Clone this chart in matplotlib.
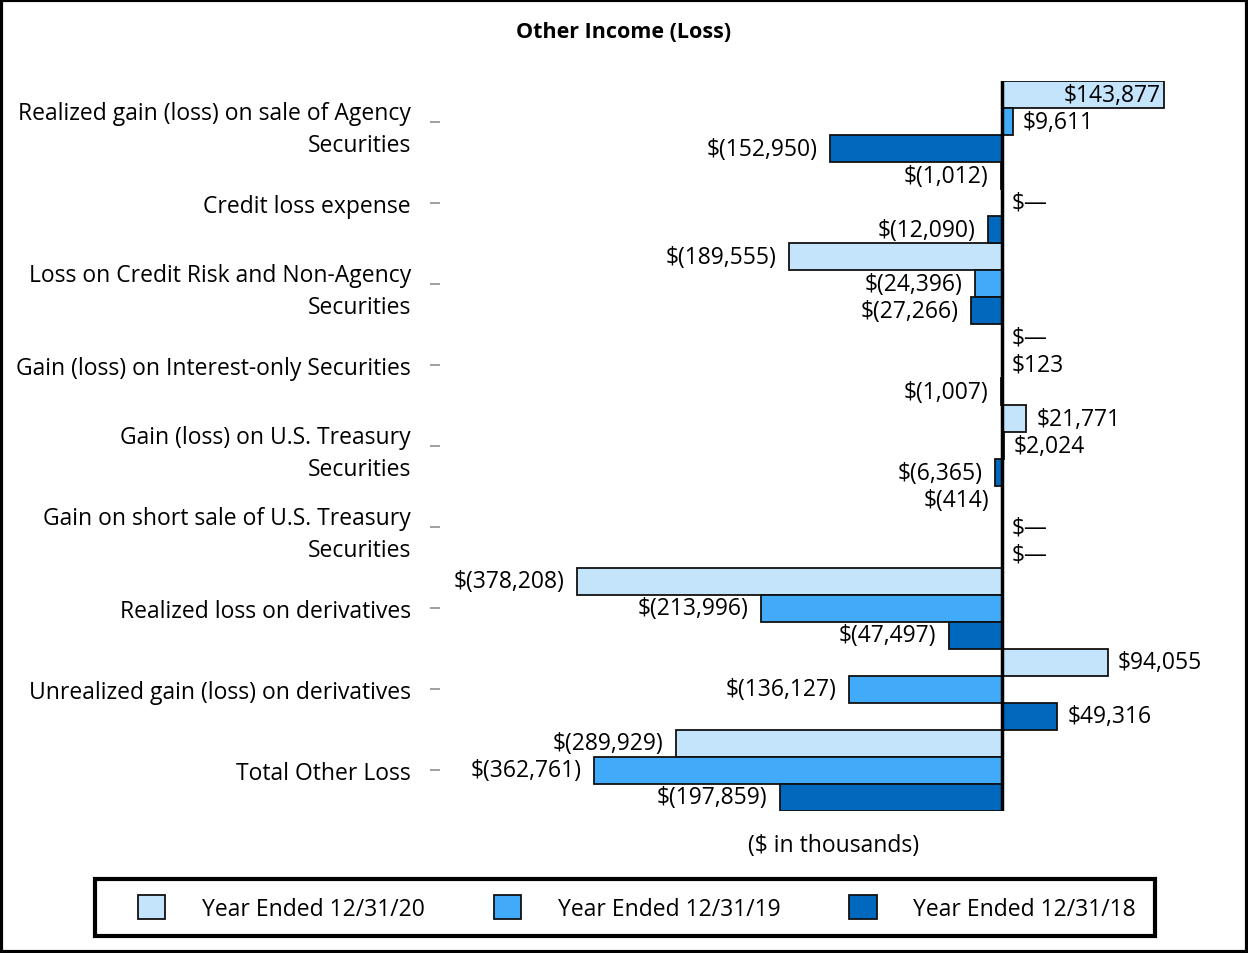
import matplotlib
matplotlib.use('Agg')
import matplotlib.pyplot as plt
import numpy as np
from matplotlib.patches import Rectangle

plt.rcParams['font.family'] = ['Open Sans', 'DejaVu Sans']

categories = ['Realized gain (loss) on sale of Agency\nSecurities',
              'Credit loss expense',
              'Loss on Credit Risk and Non-Agency\nSecurities',
              'Gain (loss) on Interest-only Securities',
              'Gain (loss) on U.S. Treasury\nSecurities',
              'Gain on short sale of U.S. Treasury\nSecurities',
              'Realized loss on derivatives',
              'Unrealized gain (loss) on derivatives',
              'Total Other Loss']
series_names = ['Year Ended 12/31/20', 'Year Ended 12/31/19', 'Year Ended 12/31/18']
y2020 = [143877, -1012, -189555, 0, 21771, -414, -378208, 94055, -289929]
y2019 = [9611, 0, -24396, 123, 2024, 0, -213996, -136127, -362761]
y2018 = [-152950, -12090, -27266, -1007, -6365, 0, -47497, 49316, -197859]
colors = ['#C4E4FC', '#41AAF9', '#0069BE']


def fmt(v):
    if v == 0:
        return '$\u2014'
    if v < 0:
        return '$({:,})'.format(-v)
    return '${:,}'.format(v)


fig = plt.figure(figsize=(12.48, 9.54), dpi=100)
ax = fig.add_axes([0.3526, 0.149, 0.6304, 0.765])

fs = 16.5
h = 1/3
pos = np.arange(len(categories))
for k, vals in enumerate([y2020, y2019, y2018]):
    yy = pos + (k - 1)*h
    ax.barh(yy, vals, height=h, color=colors[k], edgecolor='#111111',
            linewidth=1.3, label=series_names[k], zorder=2)
    for y, v in zip(yy, vals):
        if v > 120000:
            ax.annotate(fmt(v), (v, y), xytext=(-2, 0), textcoords='offset points',
                        ha='right', va='center', fontsize=fs)
        elif v >= 0:
            ax.annotate(fmt(v), (v, y), xytext=(7, 0), textcoords='offset points',
                        ha='left', va='center', fontsize=fs)
        else:
            ax.annotate(fmt(v), (v, y), xytext=(-9, 0), textcoords='offset points',
                        ha='right', va='center', fontsize=fs)

ax.axvline(0, color='black', lw=2.5, zorder=3)
ax.set_xlim(-500000, 200000)
ax.set_ylim(len(categories) - 0.5, -0.5)
ax.set_yticks(pos)
ax.set_yticklabels(categories, fontsize=fs)
for t in ax.get_yticklabels():
    t.set_linespacing(1.45)
ax.tick_params(axis='y', length=7, width=1.3, color='#999999', pad=14)
ax.set_xticks([])
for s in ax.spines.values():
    s.set_visible(False)
ax.set_xlabel('($ in thousands)', fontsize=fs, labelpad=16)

fig.text(0.5, 1 - 32/954, 'Other Income (Loss)', fontsize=15.5, fontweight='bold',
         ha='center', va='center')

# legend without frame, box drawn separately
leg = fig.legend(loc='center', bbox_to_anchor=(637/1248, 1 - 909/954), ncol=3, fontsize=fs,
                 frameon=False, handlelength=1.2, handleheight=1.2, handletextpad=1.6,
                 columnspacing=3.0, borderpad=0, borderaxespad=0)
fig.patches.append(Rectangle((95/1248, 1 - 937/954), 1060/1248, 57/954,
                             transform=fig.transFigure, fill=False,
                             edgecolor='black', linewidth=3))

fig.patches.append(Rectangle((0.001, 0.001), 0.998, 0.998, transform=fig.transFigure,
                             fill=False, edgecolor='black', linewidth=3))

fig.savefig('out.png', dpi=100)
